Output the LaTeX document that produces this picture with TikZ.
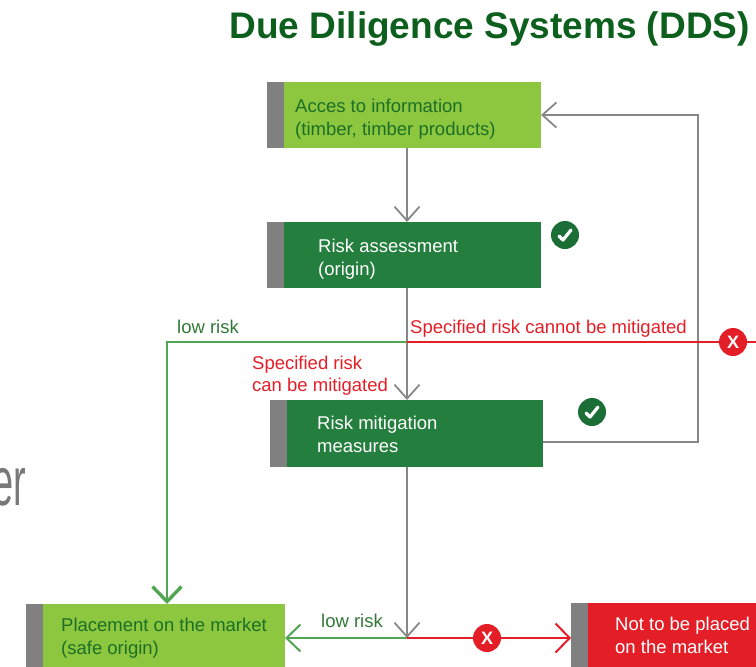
\documentclass[tikz,border=0pt]{standalone}
\usepackage{fontspec}
\setmainfont{Liberation Sans}
\usetikzlibrary{arrows.meta,calc}
\definecolor{titlegreen}{RGB}{12,95,28}
\definecolor{lightgreen}{RGB}{141,198,63}
\definecolor{darkbox}{RGB}{36,126,62}
\definecolor{textgreen}{RGB}{28,112,38}
\definecolor{stripegray}{RGB}{128,128,128}
\definecolor{linegray}{RGB}{135,135,135}
\definecolor{linegreen}{RGB}{82,165,82}
\definecolor{labelgreen}{RGB}{50,120,55}
\definecolor{myred}{RGB}{228,30,38}
\definecolor{checkgreen}{RGB}{28,110,55}
\definecolor{bggray}{RGB}{120,120,120}
\begin{document}
\begin{tikzpicture}[x=1pt,y=-1pt,
  box/.style={rectangle, anchor=north west, inner sep=0pt, outer sep=0pt, draw=none,
    path picture={\fill[stripegray] (path picture bounding box.north west) rectangle ([xshift=17pt]path picture bounding box.south west);}},
  boxtext/.style={anchor=base west, inner sep=0pt, align=left, font=\fontsize{18.5}{23}\selectfont},
  lbl/.style={anchor=base west, inner sep=0pt, align=left, font=\fontsize{18.5}{22}\selectfont},
  grayline/.style={draw=linegray, line width=1.8pt},
  grayarrow/.style={grayline, -{Straight Barb[length=14pt,width=25pt]}},
  greenline/.style={draw=linegreen, line width=2pt},
  greenarrow/.style={greenline, -{Straight Barb[length=14pt,width=27pt]}},
  biggreenarrow/.style={draw=linegreen, line width=2.4pt, -{Straight Barb[length=15pt,width=29pt,line width=3.4pt]}},
  redline/.style={draw=myred, line width=2pt},
  redarrow/.style={redline, -{Straight Barb[length=14pt,width=29pt]}},
  checkc/.style={circle, fill=checkgreen, minimum size=28pt, inner sep=0pt,
    path picture={\draw[white, line width=3.2pt, line cap=round, line join=round]
      ([shift={(-6,1)}]path picture bounding box.center) -- ([shift={(-2,5)}]path picture bounding box.center) -- ([shift={(6,-5)}]path picture bounding box.center);}},
  crossc/.style={circle, fill=myred, minimum size=28pt, inner sep=0pt, text=white, font=\fontsize{18}{18}\selectfont\bfseries}
]
\useasboundingbox (0,0) rectangle (756,667);

% background fragment
\node[anchor=base east, inner sep=0pt, text=bggray, xscale=0.55, font=\fontsize{69}{69}\selectfont] (bgtext) at (26,505) {er};

% title
\node[anchor=base east, inner sep=0pt, text=titlegreen, font=\fontsize{37}{40}\selectfont\bfseries] (title) at (750,38) {Due Diligence Systems (DDS)};

% helper coordinates
\coordinate (spine) at (407,0);
\coordinate (lowx) at (167,0);
\coordinate (fbx) at (698,0);
\coordinate (fbrow) at (0,442);
\coordinate (j1) at (407,342);
\coordinate (j2) at (407,638);
\coordinate (redend) at (760,342);

% boxes
\node[box, fill=lightgreen, minimum width=274pt, minimum height=66pt] (b1) at (267,82) {};
\node[box, fill=darkbox, minimum width=274pt, minimum height=66pt] (b2) at (267,222) {};
\node[box, fill=darkbox, minimum width=273pt, minimum height=67pt] (b3) at (270,400) {};
\node[box, fill=lightgreen, minimum width=259pt, minimum height=70pt] (b4) at (26,604) {};
\node[box, fill=myred, minimum width=200pt, minimum height=70pt] (b5) at (571,603) {};

% box texts (anchor = baseline of last line)
\node[boxtext, text=textgreen] (t1) at (295,135) {Acces to information\\(timber, timber products)};
\node[boxtext, text=white] (t2) at (318,275) {Risk assessment\\(origin)};
\node[boxtext, text=white] (t3) at (317,452) {Risk mitigation\\measures};
\node[boxtext, text=textgreen] (t4) at (61,654) {Placement on the market\\(safe origin)};
\node[boxtext, text=white] (t5) at (615,653) {Not to be placed\\on the market};

% gray flow
\draw[grayarrow] (b1.south -| spine) -- (b2.north -| spine);
\draw[grayarrow] (b2.south -| spine) -- (b3.north -| spine);
\draw[grayarrow] (b3.south -| spine) -- (j2);
\draw[grayarrow] (b3.east |- fbrow) -| (b1.east -| fbx) -- (b1.east);

% upper split
\draw[biggreenarrow] (j1) -| (b4.north -| lowx);
\draw[redline] (j1) -- (redend);
\node[crossc] (x1) at (733,342) {X};

% lower split
\draw[greenarrow] (j2) -- (b4.east |- j2);
\draw[redarrow] (j2) -- (b5.west |- j2);
\node[crossc] (x2) at (487,638) {X};

% checks
\node[checkc] (c1) at (565,235) {};
\node[checkc] (c2) at (592,412) {};

% labels
\node[lbl, text=labelgreen] (l1) at (177,333) {low risk};
\node[lbl, text=myred] (l2) at (410,333) {Specified risk cannot be mitigated};
\node[lbl, text=myred] (l3) at (252,391) {Specified risk\\can be mitigated};
\node[lbl, text=labelgreen] (l4) at (321,627) {low risk};
\end{tikzpicture}
\end{document}
